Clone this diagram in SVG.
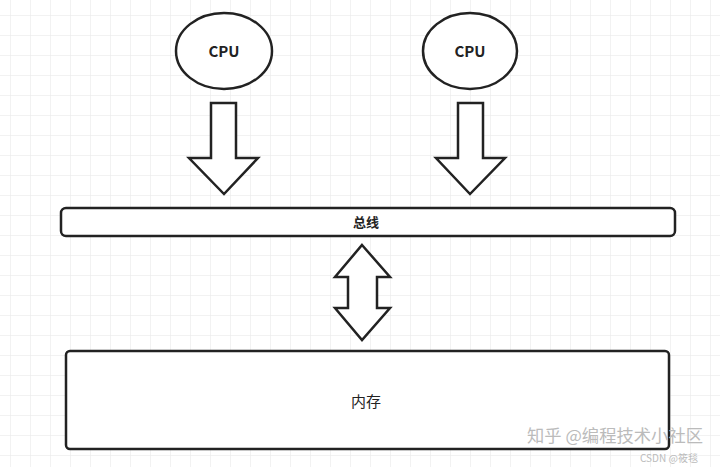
<svg xmlns="http://www.w3.org/2000/svg" width="720" height="467" viewBox="0 0 720 467">
<defs>
<pattern id="grid" width="20" height="20" patternUnits="userSpaceOnUse" x="10" y="15">
<path d="M0 0H20M0 0V20" fill="none" stroke="#e6e6e6" stroke-width="1"/>
</pattern>
<style>
.s{fill:#fff;stroke:#222;stroke-width:2.5}
.t{font-family:"Noto Sans CJK SC","Liberation Sans",sans-serif;font-size:15px;fill:#222;text-anchor:middle}
.w{font-family:"Noto Sans CJK SC",sans-serif;fill:#bbb}
</style>
</defs>
<rect width="720" height="467" fill="#fff"/>
<rect width="720" height="467" fill="url(#grid)"/>
<g id="cpu1"><ellipse class="s" cx="224" cy="51" rx="48" ry="38"/><text class="t" x="224" y="57" font-weight="bold">CPU</text></g>
<g id="cpu2"><ellipse class="s" cx="470" cy="51" rx="47" ry="38"/><text class="t" x="470" y="57" font-weight="bold">CPU</text></g>
<g id="bus"><rect class="s" x="61" y="208" width="614" height="28" rx="5"/><text class="t" x="366" y="227" style="font-size:13px;font-weight:bold">总线</text></g>
<g id="memory"><rect class="s" x="66" y="351" width="603" height="98" rx="4"/><text class="t" x="366" y="407">内存</text></g>
<g id="connectors">
<path class="s" d="M211 103H236V158H258L224 194L189 158H211Z"/>
<path class="s" d="M458 103H483V158H505L470 194L436 158H458Z"/>
<path class="s" d="M362 245L390 277H377V308H390L362 340L335 308H348V277H335Z"/>
</g>
<text class="w" x="527" y="442" font-size="17" textLength="176" lengthAdjust="spacingAndGlyphs">知乎 @编程技术小社区</text>
<text class="w" x="640" y="462" font-size="10" fill="#999">CSDN @筱毯</text>
</svg>
